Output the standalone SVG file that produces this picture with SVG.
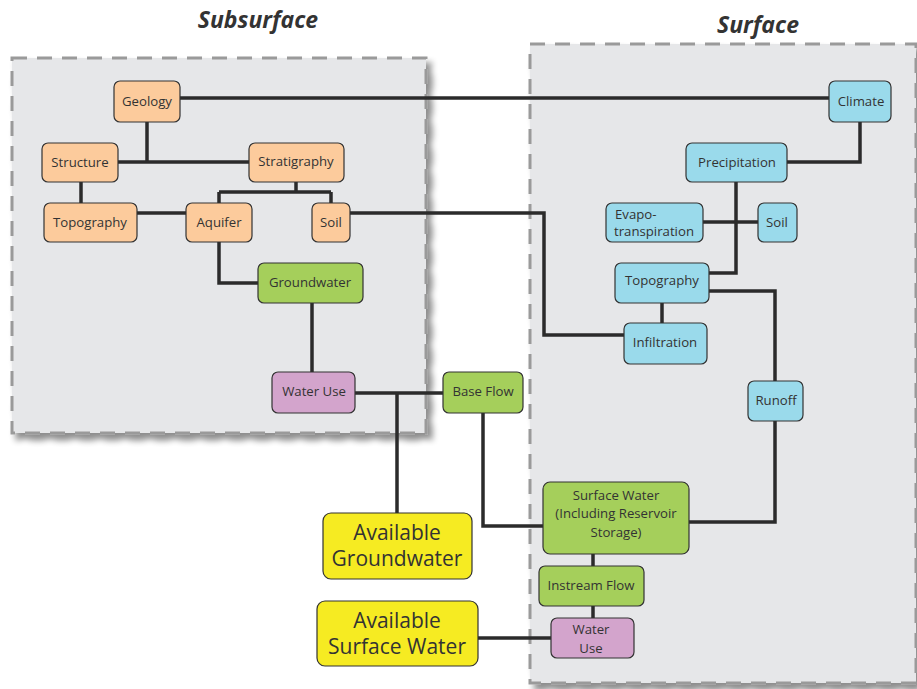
<svg xmlns="http://www.w3.org/2000/svg" width="917" height="689" viewBox="0 0 917 689">
<defs>
<filter id="sh" x="-5%" y="-5%" width="115%" height="115%">
<feGaussianBlur in="SourceAlpha" stdDeviation="3"/>
<feOffset dx="5" dy="6" result="b"/>
<feComponentTransfer><feFuncA type="linear" slope="0.45"/></feComponentTransfer>
<feMerge><feMergeNode/><feMergeNode in="SourceGraphic"/></feMerge>
</filter>
</defs>
<style>
.panel{fill:#e6e7e9;stroke:#9a9a9a;stroke-width:3;stroke-dasharray:15 10}
.title{font-family:"Open Sans","Liberation Sans",sans-serif;font-weight:bold;font-style:italic;font-size:23px;fill:#333;text-anchor:middle}
.n rect{stroke:#333;stroke-width:1.2}
.n text{font-family:"Open Sans","Liberation Sans",sans-serif;font-size:13.2px;fill:#333;text-anchor:middle}
.big text{font-size:21px}
.o rect{fill:#fccb9c}
.b rect{fill:#9adaeb}
.g rect{fill:#a5cf5b}
.p rect{fill:#d3a4cc}
.y rect{fill:#f6eb22}
#connectors path{fill:none;stroke:#2b2b2b;stroke-width:3.5}
</style>
<rect width="917" height="689" fill="#fff"/>
<g id="panels">
<rect class="panel" x="12" y="58" width="414" height="375" filter="url(#sh)"/>
<rect class="panel" x="530" y="44" width="386" height="639" filter="url(#sh)"/>
</g>
<text class="title" x="258" y="28">Subsurface</text>
<text class="title" x="758" y="33">Surface</text>
<g id="connectors">
<path d="M180 98H829"/>
<path d="M147 122V162M118 162H249"/>
<path d="M81 182V203"/>
<path d="M137 213H186"/>
<path d="M296 182V192M219 192H331M219 192V203M331 192V203"/>
<path d="M350 213H544V335H624"/>
<path d="M219 242V283H258"/>
<path d="M312 303V372"/>
<path d="M355 393H443M397 393V513"/>
<path d="M483 413V526H543"/>
<path d="M860 122V162H787"/>
<path d="M736 182V273H709"/>
<path d="M703 222H758"/>
<path d="M709 291H775V381"/>
<path d="M662 303V323"/>
<path d="M775 421V522H689"/>
<path d="M593 554V566"/>
<path d="M593 606V618"/>
<path d="M478 638H551"/>
</g>
<g id="geology" class="n o"><rect x="114" y="81" width="66" height="41" rx="6"/><text x="147" y="106">Geology</text></g>
<g id="structure" class="n o"><rect x="42" y="143" width="76" height="39" rx="6"/><text x="80" y="167">Structure</text></g>
<g id="stratigraphy" class="n o"><rect x="249" y="143" width="95" height="39" rx="6"/><text x="296" y="166">Stratigraphy</text></g>
<g id="topography-sub" class="n o"><rect x="44" y="203" width="93" height="39" rx="6"/><text x="90" y="227">Topography</text></g>
<g id="aquifer" class="n o"><rect x="186" y="203" width="66" height="39" rx="6"/><text x="219" y="227">Aquifer</text></g>
<g id="soil-sub" class="n o"><rect x="312" y="203" width="38" height="39" rx="6"/><text x="331" y="227">Soil</text></g>
<g id="groundwater" class="n g"><rect x="258" y="263" width="105" height="40" rx="6"/><text x="310" y="287">Groundwater</text></g>
<g id="wateruse-sub" class="n p"><rect x="272" y="372" width="83" height="41" rx="6"/><text x="314" y="396">Water Use</text></g>
<g id="baseflow" class="n g"><rect x="443" y="372" width="80" height="41" rx="6"/><text x="483" y="396">Base Flow</text></g>
<g id="climate" class="n b"><rect x="829" y="81" width="62" height="41" rx="6"/><text x="861" y="106">Climate</text></g>
<g id="precipitation" class="n b"><rect x="686" y="143" width="101" height="39" rx="6"/><text x="737" y="167">Precipitation</text></g>
<g id="evapotranspiration" class="n b"><rect x="606" y="203" width="97" height="39" rx="6"/><text x="615" y="219" style="text-anchor:start">Evapo-</text><text x="654" y="236">transpiration</text></g>
<g id="soil-surf" class="n b"><rect x="758" y="203" width="39" height="39" rx="6"/><text x="777" y="227">Soil</text></g>
<g id="topography-surf" class="n b"><rect x="615" y="263" width="94" height="40" rx="6"/><text x="662" y="285">Topography</text></g>
<g id="infiltration" class="n b"><rect x="624" y="323" width="83" height="41" rx="6"/><text x="665" y="347">Infiltration</text></g>
<g id="runoff" class="n b"><rect x="748" y="381" width="55" height="40" rx="6"/><text x="776" y="405">Runoff</text></g>
<g id="surfacewater" class="n g"><rect x="543" y="482" width="146" height="72" rx="7"/><text x="616" y="500">Surface Water</text><text x="616" y="518">(Including Reservoir</text><text x="616" y="537">Storage)</text></g>
<g id="instreamflow" class="n g"><rect x="539" y="566" width="105" height="40" rx="6"/><text x="591" y="590">Instream Flow</text></g>
<g id="wateruse-surf" class="n p"><rect x="551" y="618" width="83" height="40" rx="6"/><text x="591" y="634">Water</text><text x="591" y="653">Use</text></g>
<g id="avail-gw" class="n y big"><rect x="323" y="513" width="149" height="66" rx="8"/><text x="397" y="540">Available</text><text x="397" y="566">Groundwater</text></g>
<g id="avail-sw" class="n y big"><rect x="317" y="601" width="161" height="65" rx="8"/><text x="397" y="628">Available</text><text x="397" y="654">Surface Water</text></g>
</svg>
